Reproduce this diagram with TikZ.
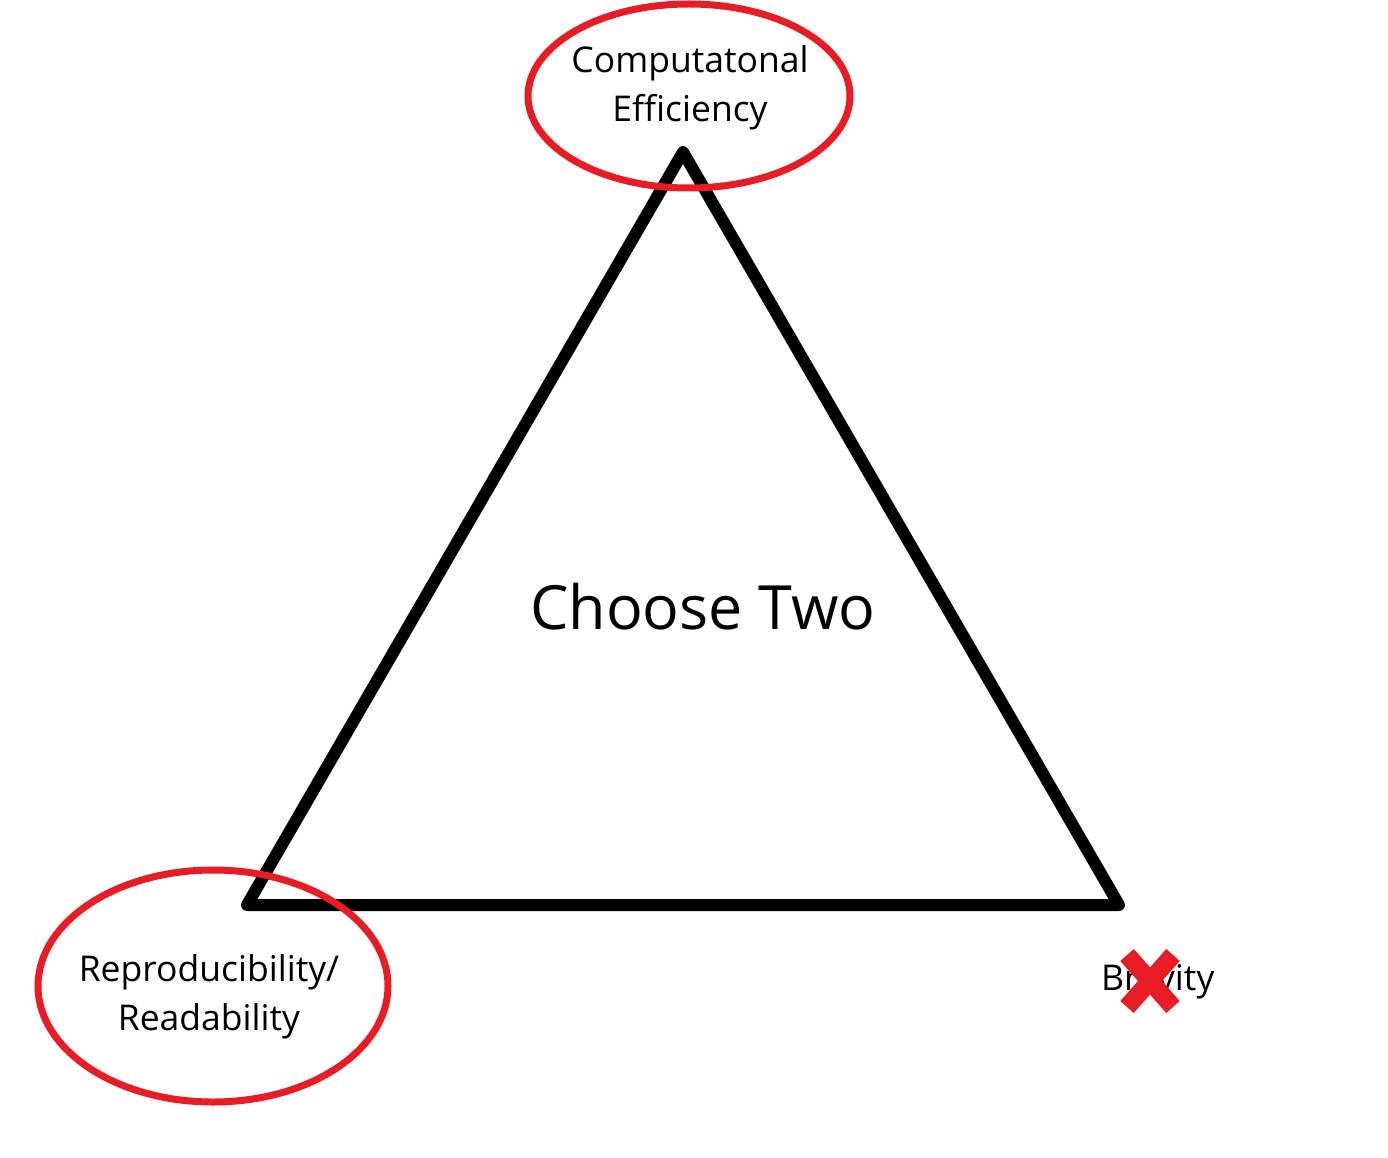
\documentclass[tikz,border=0pt]{standalone}
\usepackage{fontspec}
\setmainfont{Open Sans}
\definecolor{ringred}{RGB}{232,28,36}
\begin{document}
\begin{tikzpicture}[x=1pt,y=-1pt,
  lbl/.style={font=\fontsize{35.5}{49}\selectfont, align=center, inner sep=0pt},
  ring/.style={draw=ringred, line width=7pt},
  tri/.style={draw=black, line width=12pt, line join=round, line cap=round},
  xmark/.style={draw=ringred, line width=18pt}]
\useasboundingbox (0,0) rectangle (1388,1158);
\coordinate (A) at (683,152);
\coordinate (B) at (247,905);
\coordinate (C) at (1119,905);
\draw[tri] (A) -- (B) -- (C) -- cycle;
\node[lbl] (comp) at (690,88) {Computatonal\\Efficiency};
\node[lbl] (repr) at (209,997) {Reproducibility/\\Readability};
\node[lbl, anchor=base west] (brev) at (1101,990) {Brevity};
\node[font=\fontsize{61}{72}\selectfont, inner sep=0pt] (choose) at (703,607) {Choose Two};
\draw[ring] (689,96) ellipse [x radius=161, y radius=92];
\draw[ring] (213,986) ellipse [x radius=175, y radius=116];
\coordinate (x1) at (1127,955);
\coordinate (x2) at (1173,1007);
\coordinate (x3) at (1173,955);
\coordinate (x4) at (1127,1007);
\draw[xmark] (x1) -- (x2);
\draw[xmark] (x3) -- (x4);
\end{tikzpicture}
\end{document}
